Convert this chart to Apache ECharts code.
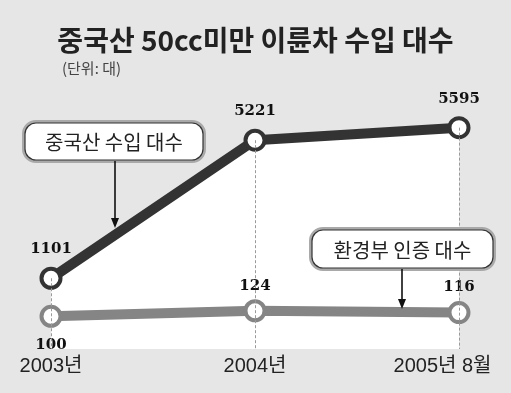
<!DOCTYPE html>
<html><head><meta charset="utf-8">
<script src="https://cdn.jsdelivr.net/npm/echarts@6/dist/echarts.min.js"></script>
<style>html,body{margin:0;padding:0;background:#e6e6e6}#c{width:511px;height:393px}</style>
</head><body><div id="c"></div>
<script>
const categories = ['2003년', '2004년', '2005년 8월'];
const importValues = [1101, 5221, 5595];
const certValues = [100, 124, 116];
const titleText = '중국산 50cc미만 이륜차 수입 대수';
const unitText = '(단위: 대)';
const importName = '중국산 수입 대수';
const certName = '환경부 인증 대수';

const importMin = -1010, importMax = 6420;
const certMin = -41, certMax = 1033;

const KR = '"Noto Sans CJK KR", sans-serif';
const LAT = '"Liberation Sans", "Noto Sans CJK KR", sans-serif';
const NUM = '"DejaVu Serif", serif';

const chart = echarts.init(document.getElementById('c'), null, {renderer: 'canvas'});

function box(x, y, w, h, text) {
  return [
    {type: 'rect', shape: {x: x, y: y, width: w, height: h, r: 11}, style: {fill: '#fff', stroke: '#a9a9a9', lineWidth: 6}, z: 50},
    {type: 'rect', shape: {x: x, y: y, width: w, height: h, r: 11}, style: {fill: '#fff', stroke: '#333', lineWidth: 1.2}, z: 51},
    {type: 'text', x: x + w / 2, y: y + h / 2 + 1, style: {text: text, fill: '#222', font: '20px ' + KR, textAlign: 'center', textVerticalAlign: 'middle'}, z: 52}
  ];
}
function arrow(x, y1, y2) {
  return [
    {type: 'line', shape: {x1: x, y1: y1, x2: x, y2: y2 - 8}, style: {stroke: '#111', lineWidth: 1.6}, z: 50},
    {type: 'polygon', shape: {points: [[x - 4, y2 - 10], [x + 4, y2 - 10], [x, y2]]}, style: {fill: '#111'}, z: 50}
  ];
}

const option = {
  backgroundColor: '#e6e6e6',
  animation: false,
  title: [
    {text: titleText, left: 'center', top: 21, textStyle: {fontFamily: KR, fontSize: 28, fontWeight: 'bold', color: '#222'}},
    {text: unitText, left: 57, top: 56, textStyle: {fontFamily: KR, fontSize: 15, fontWeight: 'normal', color: '#444'}}
  ],
  grid: {left: 51, right: 52, top: 100, bottom: 44, containLabel: false},
  xAxis: {
    type: 'category', data: categories, boundaryGap: false,
    axisLine: {show: false}, axisTick: {show: false}, splitLine: {show: false},
    axisLabel: {
      interval: 0, hideOverlap: false, margin: 7, fontFamily: LAT, fontSize: 20, color: '#222',
      formatter: (v, i) => i === categories.length - 1 ? '{s|' + v + '}' : v,
      rich: {s: {fontFamily: LAT, fontSize: 20, color: '#222', padding: [0, 33, 0, 0]}}
    }
  },
  yAxis: [
    {type: 'value', min: importMin, max: importMax, show: false},
    {type: 'value', min: certMin, max: certMax, show: false}
  ],
  series: [
    {
      type: 'line', data: importValues, yAxisIndex: 0, z: 1, symbol: 'none',
      lineStyle: {width: 0}, areaStyle: {color: '#fff', opacity: 1, origin: 'start'}, silent: true,
      markLine: {
        silent: true, symbol: ['none', 'none'], label: {show: false},
        lineStyle: {type: [3, 2], color: '#9a9a9a', width: 1},
        data: importValues.map((v, i) => [{coord: [i, v]}, {coord: [i, importMin]}])
      }
    },
    {
      type: 'line', name: certName, data: certValues.map((v, i) => ({value: v, label: {position: i === 0 ? 'bottom' : 'top', distance: i === 0 ? 10 : 6}})),
      yAxisIndex: 1, z: 3, symbol: 'circle', symbolSize: 19,
      lineStyle: {width: 10, color: '#858585'},
      itemStyle: {color: '#fff', borderColor: '#858585', borderWidth: 4},
      label: {show: true, fontFamily: NUM, fontWeight: 'bold', fontSize: 15, color: '#111'}
    },
    {
      type: 'line', name: importName, data: importValues, yAxisIndex: 0, z: 4, symbol: 'circle', symbolSize: 19,
      lineStyle: {width: 10, color: '#333'},
      itemStyle: {color: '#fff', borderColor: '#333', borderWidth: 4},
      label: {show: true, position: 'top', distance: 10, fontFamily: NUM, fontWeight: 'bold', fontSize: 15, color: '#111'}
    }
  ],
  graphic: [].concat(
    box(25, 123, 178, 37, importName), arrow(115, 161, 228),
    box(312, 230, 181, 38, certName), arrow(402, 269, 309)
  )
};
chart.setOption(option);
</script></body></html>
